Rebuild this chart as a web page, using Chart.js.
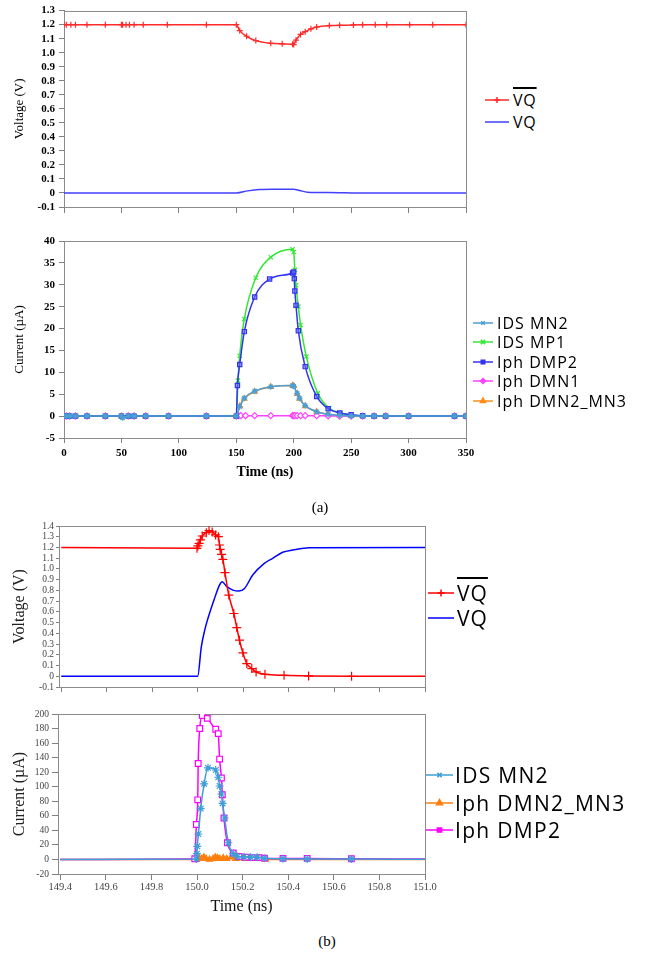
<!DOCTYPE html>
<html>
<head>
<meta charset="utf-8">
<script src="https://cdn.jsdelivr.net/npm/chart.js@4.4.1/dist/chart.umd.min.js"></script>
<style>
body { margin: 0; background: #fff; width: 653px; height: 956px; position: relative; overflow: hidden; }
canvas.c { position: absolute; left: 0; }
.row { position: absolute; display: flex; align-items: center; white-space: nowrap; font-family: "Open Sans", sans-serif; color: #000; }
.row span { line-height: 1; }
.ov { text-decoration: overline; text-decoration-thickness: 1.5px; }
.cap { position: absolute; font-family: "Liberation Serif", serif; font-size: 15px; color: #000; transform: translate(-50%, -50%); }
</style>
</head>
<body>
<canvas class="c" id="va" width="480" height="222" style="top:0"></canvas>
<canvas class="c" id="ia" width="480" height="262" style="top:225px"></canvas>
<canvas class="c" id="vb" width="440" height="180" style="top:515px"></canvas>
<canvas class="c" id="ib" width="440" height="222" style="top:700px"></canvas>
<div class="cap" style="left:320px;top:507px">(a)</div>
<div class="cap" style="left:327px;top:941px">(b)</div>
<script>
// ---- (a) voltage, 0..350 ns
const tA_vqb = [0, 2, 6, 10, 20, 36, 50, 51, 54, 57, 61, 69, 90, 124, 150, 153, 159, 167, 180, 190, 199, 200, 202, 206, 210, 215, 220, 231, 240, 252, 260, 271, 281, 301, 321, 350];
const vA_vqb = [1.2, 1.2, 1.2, 1.2, 1.2, 1.2, 1.2, 1.2, 1.2, 1.2, 1.2, 1.2, 1.2, 1.2, 1.2, 1.157, 1.117, 1.086, 1.067, 1.063, 1.06, 1.058, 1.09, 1.13, 1.15, 1.17, 1.183, 1.193, 1.195, 1.198, 1.199, 1.2, 1.2, 1.2, 1.2, 1.2];
const tA_vq = [0, 150, 160, 170, 185, 200, 205, 212, 220, 240, 250, 350];
const vA_vq = [0, 0, 0.015, 0.024, 0.026, 0.027, 0.018, 0.005, 0.003, 0.002, 0, 0];

// ---- (a) currents
const tA_mn2 = [0, 2, 5, 10, 20, 36, 50, 51, 56, 61, 71, 91, 124, 150, 153, 157, 166, 180, 199, 200, 203, 205, 210, 220, 230, 240, 250, 260, 270, 280, 300, 340, 350];
const iA_mn2 = [0, 0, 0, 0, 0, 0, 0, -0.4, 0, 0, 0, 0, 0, 0, 2.2, 4.1, 5.7, 6.7, 7.0, 6.8, 5.2, 4.1, 2.4, 1.0, 0.4, 0.15, 0.05, 0, 0, 0, 0, 0, 0];
const tA_mp1 = [0, 2, 5, 10, 20, 36, 50, 56, 61, 71, 91, 124, 150, 151.5, 153, 157, 167, 180, 199, 200, 201, 202, 204, 206, 211, 221, 231, 241, 250, 260, 270, 280, 300, 340, 350];
const iA_mp1 = [0, 0, 0, 0, 0, 0, 0, 0, 0, 0, 0, 0, 0, 8.1, 13.8, 22.2, 31.6, 36.3, 38.1, 37.5, 33.4, 29.9, 25.0, 20.8, 13.6, 5.2, 1.8, 0.7, 0.2, 0.05, 0, 0, 0, 0, 0];
const tA_dmp2 = [0, 2, 5, 10, 20, 36, 50, 56, 61, 71, 91, 124, 150, 151, 153, 157, 166, 179, 199, 200, 200.5, 201, 202, 204, 210, 220, 230, 240, 250, 260, 270, 280, 300, 340, 350];
const iA_dmp2 = [0, 0, 0, 0, 0, 0, 0, 0, 0, 0, 0, 0, 0, 7.0, 11.8, 19.3, 27.2, 31.3, 32.7, 32.9, 31.4, 28.6, 25.3, 19.5, 11.3, 4.5, 1.7, 0.7, 0.3, 0.1, 0, 0, 0, 0, 0];
const tA_dmn1 = [0, 2, 5, 10, 20, 36, 50, 56, 61, 71, 91, 124, 150, 152, 154, 158, 166, 180, 199, 200, 201, 203, 206, 210, 220, 230, 240, 250, 260, 270, 280, 300, 340, 350];
const iA_dmn1 = [0, 0, 0, 0, 0, 0, 0, 0, 0, 0, 0, 0, 0, 0.1, 0.1, 0.1, 0.1, 0.1, 0.1, 0.1, 0.1, 0.1, 0.1, 0.1, 0.1, 0.05, 0, 0, 0, 0, 0, 0, 0, 0];
const tA_dmn23 = [0, 2, 5, 10, 20, 36, 50, 56, 61, 71, 91, 124, 150, 153, 157, 166, 180, 199, 200, 203, 205, 210, 220, 230, 240, 250, 260, 270, 280, 300, 340, 350];
const iA_dmn23 = [0, 0, 0, 0, 0, 0, 0, 0, 0, 0, 0, 0, 0, 2.3, 4.0, 5.6, 6.7, 7.0, 6.9, 5.1, 4.0, 2.3, 1.0, 0.4, 0.15, 0.05, 0, 0, 0, 0, 0, 0];

// ---- (b) voltage, 149.4..151.0 ns
const tB_vqb = [149.4, 149.997, 150.001, 150.006, 150.012, 150.020, 150.038, 150.050, 150.064, 150.079, 150.091, 150.096, 150.099, 150.105, 150.111, 150.120, 150.137, 150.159, 150.172, 150.184, 150.199, 150.216, 150.238, 150.257, 150.296, 150.380, 150.488, 150.677, 151.0];
const vB_vqb = [1.2, 1.192, 1.214, 1.239, 1.27, 1.307, 1.338, 1.357, 1.345, 1.317, 1.301, 1.223, 1.183, 1.136, 1.089, 0.965, 0.756, 0.585, 0.454, 0.336, 0.218, 0.118, 0.072, 0.040, 0.019, 0.009, 0.003, 0, 0];
const tB_vq = [149.4, 150.0, 150.016, 150.031, 150.045, 150.074, 150.096, 150.108, 150.126, 150.155, 150.181, 150.206, 150.242, 150.293, 150.33, 150.374, 150.418, 150.491, 151.0];
const vB_vq = [0, 0, 0.274, 0.43, 0.538, 0.725, 0.85, 0.88, 0.84, 0.803, 0.794, 0.818, 0.943, 1.052, 1.099, 1.155, 1.176, 1.198, 1.2];

// ---- (b) currents
const tB_mn2 = [149.4, 149.997, 149.999, 150.001, 150.006, 150.016, 150.031, 150.048, 150.082, 150.093, 150.099, 150.107, 150.112, 150.121, 150.137, 150.159, 150.177, 150.206, 150.235, 150.264, 150.296, 150.377, 150.483, 150.677, 151.0];
const iB_mn2 = [0, 0.5, 8, 18, 35, 70, 104, 126, 123, 113, 101, 90, 77, 57, 23, 8, 4, 3.7, 3.2, 3.2, 1.8, 0.9, 0.5, 0.5, 0.3];
const tB_dmn23 = [149.4, 149.997, 150.003, 150.01, 150.02, 150.03, 150.04, 150.055, 150.07, 150.08, 150.09, 150.1, 150.115, 150.13, 150.15, 150.17, 150.19, 150.21, 150.23, 150.25, 150.27, 150.3, 151.0];
const iB_dmn23 = [0, 0, 1, 2, 1, 3, 1, 0, 1, 3, 2, 1, 2, 1, 3, 1, 2, 1, 2, 1, 1, 0, 0];
const tB_dmp2 = [149.4, 149.99, 149.997, 150.003, 150.005, 150.012, 150.023, 150.045, 150.082, 150.093, 150.099, 150.107, 150.111, 150.118, 150.133, 150.159, 150.184, 150.213, 150.242, 150.272, 150.296, 150.377, 150.483, 150.677, 151.0];
const iB_dmp2 = [0, 1, 48, 82, 132, 180, 198, 194, 179, 173, 138, 112, 89, 57, 23, 9, 4, 3, 2.5, 2.5, 1.8, 1.4, 1.4, 0.9, 0.5];

// ---- tick values
const xTicksA = [0, 50, 100, 150, 200, 250, 300, 350];
const vTicksA = [-0.1, 0, 0.1, 0.2, 0.3, 0.4, 0.5, 0.6, 0.7, 0.8, 0.9, 1.0, 1.1, 1.2, 1.3];
const iTicksA = [-5, 0, 5, 10, 15, 20, 25, 30, 35, 40];
const xTicksB = [149.4, 149.6, 149.8, 150.0, 150.2, 150.4, 150.6, 150.8, 151.0];
const vTicksB = [-0.1, 0, 0.1, 0.2, 0.3, 0.4, 0.5, 0.6, 0.7, 0.8, 0.9, 1.0, 1.1, 1.2, 1.3, 1.4];
const iTicksB = [-20, 0, 20, 40, 60, 80, 100, 120, 140, 160, 180, 200];

const pts = (xs, ys) => xs.map((x, i) => ({ x: x, y: ys[i] }));
const volt = v => Math.abs(v) < 1e-9 ? '0' : v.toFixed(1);
const noEnds = r => c => (c.dataIndex === 0 || c.dataIndex === c.dataset.data.length - 1) ? 0 : r;

const frame = {
  id: 'frame',
  beforeDatasetsDraw(chart) {
    const a = chart.chartArea, ctx = chart.ctx;
    ctx.save();
    ctx.strokeStyle = '#8c8c8c';
    ctx.lineWidth = 1;
    ctx.strokeRect(Math.round(a.left) + 0.5, Math.round(a.top) + 0.5, Math.round(a.right - a.left), Math.round(a.bottom - a.top));
    ctx.restore();
  }
};

function ds(label, data, color, style, r, fill, extra) {
  return Object.assign({
    label: label, data: data, borderColor: color, backgroundColor: fill || color,
    pointStyle: style, pointRadius: r, pointBorderColor: color, pointBackgroundColor: fill || color,
    borderWidth: 1.5, pointBorderWidth: 1.2, cubicInterpolationMode: 'monotone'
  }, extra || {});
}

function build(id, datasets, o) {
  return new Chart(document.getElementById(id), {
    type: 'line',
    data: { datasets: datasets },
    options: {
      responsive: false,
      animation: false,
      layout: { padding: o.pad },
      plugins: { legend: { display: false }, tooltip: { enabled: false } },
      scales: {
        x: {
          type: 'linear', min: o.xmin, max: o.xmax,
          afterBuildTicks: s => { s.ticks = o.xticks.map(v => ({ value: v })); },
          afterFit: s => { s.height = o.xh; },
          grid: { drawOnChartArea: false, color: '#808080', tickLength: o.xtl },
          border: { color: '#808080' },
          ticks: { display: o.xlab, font: o.xfont, color: o.tcol, padding: o.xpad, maxRotation: 0, autoSkip: false, callback: o.xfmt },
          title: o.xtitle || { display: false }
        },
        y: {
          min: o.ymin, max: o.ymax,
          afterBuildTicks: s => { s.ticks = o.yticks.map(v => ({ value: v })); },
          afterFit: s => { s.width = o.yw; },
          grid: { drawOnChartArea: false, color: '#808080', tickLength: o.ytl },
          border: { color: '#808080' },
          ticks: { font: o.yfont, color: o.tcol, padding: o.ypad, autoSkip: false, callback: o.yfmt },
          title: o.ytitle
        }
      }
    },
    plugins: [frame]
  });
}

const serif = 'Liberation Serif';
const tickA = { family: serif, size: 11, weight: 'bold' };

build('va', [
  ds('VQbar', pts(tA_vqb, vA_vqb), '#ff2a2a', 'cross', 3),
  ds('VQ', pts(tA_vq, vA_vq), '#4040ff', 'circle', 0)
], {
  pad: { top: 10, right: 14, left: 0, bottom: 0 },
  xmin: 0, xmax: 350, xticks: xTicksA, xh: 15, xtl: 6, xlab: false, xpad: 2, xfont: tickA, xfmt: v => v,
  ymin: -0.1, ymax: 1.3, yticks: vTicksA, yw: 64, ytl: 5, ypad: 4, yfont: tickA, yfmt: volt,
  tcol: '#000',
  ytitle: { display: true, text: 'Voltage (V)', font: { family: serif, size: 13 }, color: '#000', padding: { top: 12, bottom: 0 } }
});

build('ia', [
  ds('IDS MN2', pts(tA_mn2, iA_mn2), '#4a9fd4', 'star', 3),
  ds('Iph DMP2', pts(tA_dmp2, iA_dmp2), '#3333ee', 'rect', 3, 'rgba(110,110,255,0.55)'),
  ds('IDS MP1', pts(tA_mp1, iA_mp1), '#33e633', 'crossRot', 3),
  ds('Iph DMN1', pts(tA_dmn1, iA_dmn1), '#ff40ff', 'rectRot', 3, '#ffffff'),
  ds('Iph DMN2_MN3', pts(tA_dmn23, iA_dmn23), '#ff8c1a', 'triangle', 3)
], {
  pad: { top: 16, right: 14, left: 0, bottom: 0 },
  xmin: 0, xmax: 350, xticks: xTicksA, xh: 49, xtl: 5, xlab: true, xpad: 4, xfont: tickA, xfmt: v => String(v),
  ymin: -5, ymax: 40, yticks: iTicksA, yw: 64, ytl: 5, ypad: 4, yfont: tickA, yfmt: v => String(v),
  tcol: '#000',
  xtitle: { display: true, text: 'Time (ns)', font: { family: serif, size: 14, weight: 'bold' }, color: '#000', padding: { top: 0, bottom: 6 } },
  ytitle: { display: true, text: 'Current (µA)', font: { family: serif, size: 13 }, color: '#000', padding: { top: 12, bottom: 0 } }
});

build('vb', [
  ds('VQbar', pts(tB_vqb, vB_vqb), '#ff0000', 'cross', 4.5, null, { pointRadius: noEnds(4.5) }),
  ds('VQ', pts(tB_vq, vB_vq), '#0000ff', 'circle', 0)
], {
  pad: { top: 11, right: 15, left: 0, bottom: 0 },
  xmin: 149.39, xmax: 151.0, xticks: xTicksB, xh: 8, xtl: 5, xlab: false, xpad: 2, xfont: { family: serif, size: 10 }, xfmt: v => v,
  ymin: -0.1, ymax: 1.4, yticks: vTicksB, yw: 59, ytl: 3, ypad: 2, yfont: { family: serif, size: 9.5 }, yfmt: volt,
  tcol: '#444',
  ytitle: { display: true, text: 'Voltage (V)', font: { family: serif, size: 16 }, color: '#222', padding: { top: 10, bottom: 0 } }
});

build('ib', [
  ds('IDS MN2', pts(tB_mn2, iB_mn2), '#3d9fd6', 'star', 4, null, { pointRadius: noEnds(4) }),
  ds('Iph DMP2', pts(tB_dmp2, iB_dmp2), '#ff00ff', 'rect', 4, '#ffffff', { pointRadius: noEnds(4) }),
  ds('Iph DMN2_MN3', pts(tB_dmn23, iB_dmn23), '#ff7f0e', 'triangle', 3.5, null, { pointRadius: noEnds(3.5) })
], {
  pad: { top: 14, right: 15, left: 0, bottom: 0 },
  xmin: 149.39, xmax: 151.0, xticks: xTicksB, xh: 48, xtl: 6, xlab: true, xpad: 1, xfont: { family: serif, size: 10.5 }, xfmt: v => v.toFixed(1),
  ymin: -20, ymax: 200, yticks: iTicksB, yw: 58, ytl: 6, ypad: 3, yfont: { family: serif, size: 9.5 }, yfmt: v => String(v),
  tcol: '#444',
  xtitle: { display: true, text: 'Time (ns)', font: { family: serif, size: 16 }, color: '#111', padding: { top: 0, bottom: 6 } },
  ytitle: { display: true, text: 'Current (µA)', font: { family: serif, size: 16 }, color: '#222', padding: { top: 10, bottom: 0 } }
});

// ---- HTML legends (marks drawn with Chart.js point helper)
const legA1 = [
  { text: 'VQ', over: true, color: '#ff2a2a', style: 'cross', r: 3 },
  { text: 'VQ', color: '#4040ff', style: false, r: 0 }
];
const legA2 = [
  { text: 'IDS MN2', color: '#4a9fd4', style: 'crossRot', r: 2.5 },
  { text: 'IDS MP1', color: '#33e633', style: 'crossRot', r: 3 },
  { text: 'Iph DMP2', color: '#3333ee', style: 'rect', r: 2.5 },
  { text: 'Iph DMN1', color: '#ff40ff', style: 'rectRot', r: 2.5 },
  { text: 'Iph DMN2_MN3', color: '#ff8c1a', style: 'triangle', r: 3 }
];
const legB1 = [
  { text: 'VQ', over: true, color: '#ff0000', style: 'cross', r: 3.5 },
  { text: 'VQ', color: '#0000ff', style: false, r: 0 }
];
const legB2 = [
  { text: 'IDS MN2', color: '#3d9fd6', style: 'crossRot', r: 3 },
  { text: 'Iph DMN2_MN3', color: '#ff7f0e', style: 'triangle', r: 3.5 },
  { text: 'Iph DMP2', color: '#ff00ff', style: 'rect', r: 3 }
];

function legend(items, x, ys, lineLen, gap, size, spacing) {
  items.forEach((it, i) => {
    const row = document.createElement('div');
    row.className = 'row';
    row.style.left = x + 'px';
    row.style.top = (ys[i] - size / 2) + 'px';
    row.style.height = size + 'px';
    const cv = document.createElement('canvas');
    cv.width = lineLen; cv.height = 14;
    const c = cv.getContext('2d');
    c.strokeStyle = it.color; c.fillStyle = it.color; c.lineWidth = 1.5;
    c.beginPath(); c.moveTo(0, 7); c.lineTo(lineLen, 7); c.stroke();
    if (it.style && Chart.helpers && Chart.helpers.drawPoint) {
      c.beginPath();
      Chart.helpers.drawPoint(c, { pointStyle: it.style, radius: it.r, rotation: 0, borderWidth: 1 }, lineLen / 2, 7);
    }
    const sp = document.createElement('span');
    sp.textContent = it.text;
    sp.style.fontSize = size + 'px';
    sp.style.letterSpacing = spacing + 'px';
    sp.style.marginLeft = gap + 'px';
    if (it.over) sp.className = 'ov';
    row.appendChild(cv);
    row.appendChild(sp);
    document.body.appendChild(row);
  });
}

legend(legA1, 485, [100, 122], 24, 4, 16, 0.8);
legend(legA2, 473, [323, 342, 362, 381, 401], 20, 4, 16, 1.0);
legend(legB1, 428, [593, 618], 26, 3, 21, 1.0);
legend(legB2, 426, [775, 803, 830], 27, 2, 21, 1.3);
</script>
</body>
</html>
